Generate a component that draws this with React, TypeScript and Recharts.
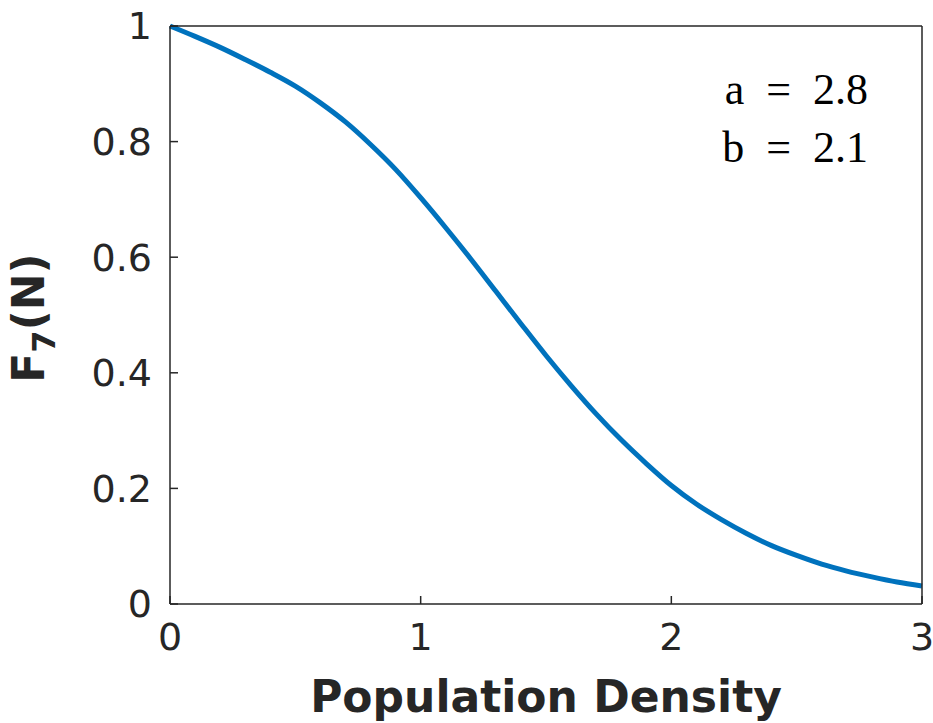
import { Line, LineChart, XAxis, YAxis, Label } from 'recharts';

// F_7(N) sampled along population density N
const density = [0, 0.1, 0.2, 0.3, 0.4, 0.5, 0.6, 0.7, 0.8, 0.9, 1.0, 1.1, 1.2, 1.3, 1.4, 1.5,
  1.6, 1.7, 1.8, 1.9, 2.0, 2.1, 2.2, 2.3, 2.4, 2.5, 2.6, 2.7, 2.8, 2.9, 3.0];
const response = [1.0, 0.982, 0.963, 0.942, 0.92, 0.896, 0.867, 0.834, 0.795, 0.752, 0.703,
  0.651, 0.597, 0.541, 0.485, 0.43, 0.378, 0.329, 0.284, 0.243, 0.205, 0.173, 0.146, 0.122,
  0.101, 0.084, 0.069, 0.057, 0.047, 0.038, 0.031];

const xTicks = [0, 1, 2, 3];
const yTicks = [0, 0.2, 0.4, 0.6, 0.8, 1];
const params = ['a = 2.8', 'b = 2.1'];

const data = density.map((n, i) => ({ n, f: response[i] }));

const INK = '#262626';
const tickFont = { fontFamily: 'DejaVu Sans', fontSize: 38, fill: INK };

const fmt = (v: number) => (Number.isInteger(v) ? String(v) : v.toFixed(1));

const YTitle = () => (
  <text
    transform="translate(44,318) rotate(-90)"
    textAnchor="middle"
    fontFamily="DejaVu Sans"
    fontWeight="bold"
    fontSize={44}
    fill={INK}
  >
    F<tspan dy={11} fontSize={32}>7</tspan>
    <tspan dy={-11}>(N)</tspan>
  </text>
);

export default function App() {
  return (
    <div style={{ position: 'absolute', left: 0, top: 0, background: '#fff' }}>
      <LineChart
        width={933}
        height={723}
        data={data}
        margin={{ top: 25, right: 10, bottom: 0, left: 0 }}
      >
        <XAxis
          dataKey="n"
          type="number"
          domain={[0, 3]}
          ticks={xTicks}
          tickFormatter={fmt}
          height={119}
          stroke={INK}
          strokeWidth={1.5}
          tickSize={-8}
          tickMargin={27}
          tick={tickFont}
        >
          <Label
            value="Population Density"
            position="insideBottom"
            offset={11}
            style={{ fontFamily: 'DejaVu Sans', fontWeight: 'bold', fontSize: 44, fill: INK }}
          />
        </XAxis>
        {/* box frame: top and right axes with inward ticks */}
        <XAxis
          xAxisId="top"
          orientation="top"
          dataKey="n"
          type="number"
          domain={[0, 3]}
          ticks={xTicks}
          height={1}
          stroke={INK}
          strokeWidth={1.5}
          tickSize={-8}
          tick={false}
        />
        <YAxis
          type="number"
          domain={[0, 1]}
          ticks={yTicks}
          tickFormatter={fmt}
          width={170}
          stroke={INK}
          strokeWidth={1.5}
          tickSize={-8}
          tickMargin={26}
          tick={tickFont}
        >
          <Label content={YTitle} />
        </YAxis>
        <YAxis
          yAxisId="right"
          orientation="right"
          type="number"
          domain={[0, 1]}
          ticks={yTicks}
          width={1}
          stroke={INK}
          strokeWidth={1.5}
          tickSize={-8}
          tick={false}
        />
        <Line
          type="monotone"
          dataKey="f"
          stroke="#0072BD"
          strokeWidth={5}
          dot={false}
          isAnimationActive={false}
        />
        {params.map((p, i) => (
          <text
            key={p}
            x={868}
            y={104 + i * 58}
            textAnchor="end"
            fontFamily="Liberation Serif"
            fontSize={44}
            fill="#000"
            style={{ whiteSpace: 'pre' }}
          >
            {p.replace(/ /g, '\u2002')}
          </text>
        ))}
      </LineChart>
    </div>
  );
}
